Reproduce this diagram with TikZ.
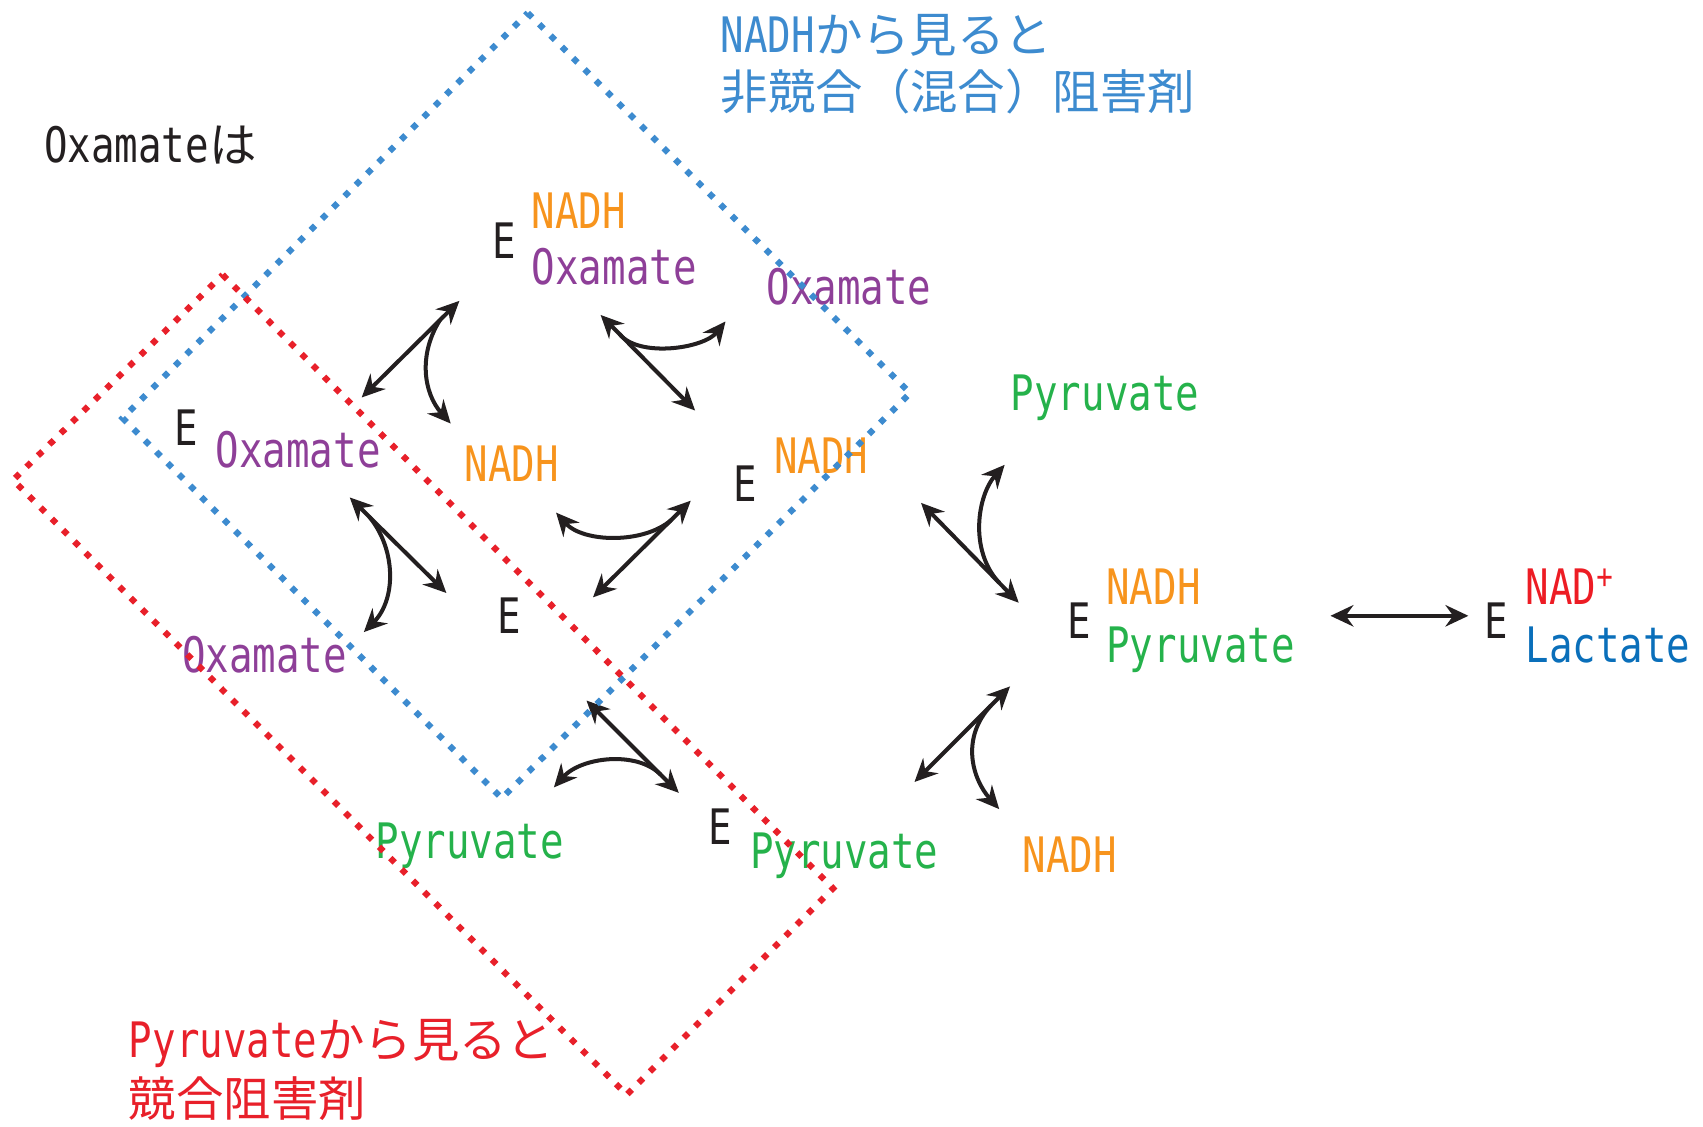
\documentclass[tikz,border=0pt]{standalone}
\usepackage{fontspec}
\setmainfont{DejaVu Sans Mono}[FakeStretch=0.8]
\newfontfamily\jp{Noto Sans CJK JP}[Scale=0.97]
\usetikzlibrary{arrows.meta,calc}
\definecolor{ink}{HTML}{231F20}
\definecolor{nadhcol}{HTML}{F7941D}
\definecolor{oxacol}{HTML}{8E3F98}
\definecolor{pyrcol}{HTML}{25B24B}
\definecolor{nadcol}{HTML}{ED1C24}
\definecolor{laccol}{HTML}{0A6FBA}
\definecolor{fenceblue}{HTML}{3D8BCF}
\definecolor{fencered}{HTML}{E8202A}
\tikzset{
    lbl/.style={
           inner sep=0pt,
           anchor=base west,
           font=\fontsize{12.8}{15}\selectfont,
           },
    enz/.style={lbl, text=ink},
    nadh/.style={lbl, text=nadhcol},
    oxa/.style={lbl, text=oxacol},
    pyr/.style={lbl, text=pyrcol},
    pil/.style={
           <->,
           line width=1.05pt,
           draw=ink,
           },
    swing/.style={
           ->,
           line width=1.05pt,
           draw=ink,
           },
    fence/.style={
           line width=0.057cm,
           dash pattern=on 0.057cm off 0.09cm,
           }
}

\begin{document}
\begin{tikzpicture}[x=0.01cm,y=-0.01cm,>={Stealth[length=6pt,width=5.6pt,inset=2pt]}]
\useasboundingbox (0,0) rectangle (1568,1037);
% headings
\node[lbl, text=fenceblue] (hnadh) at (663,48) {NADH{\jp から見ると}};
\node[lbl, text=fenceblue] (hnadh2) at (663,101) {\jp 非競合（混合）阻害剤};
\node[enz] (hoxa) at (40,150) {Oxamate{\jp は}};
\node[lbl, text=fencered] (hpyr) at (118,974) {Pyruvate{\jp から見ると}};
\node[lbl, text=fencered] (hpyr2) at (118,1028) {\jp 競合阻害剤};
% complexes
\node[enz] (eno) at (453,238) {E};
\node[nadh] (eno1) at (489,210) {NADH};
\node[oxa] (eno2) at (489,262) {Oxamate};
\node[enz] (eo) at (160,410) {E};
\node[oxa] (eo1) at (198,430) {Oxamate};
\node[enz] (en) at (675,462) {E};
\node[nadh] (en1) at (712,436) {NADH};
\node[enz] (ee) at (457,583) {E};
\node[enz] (ep) at (652,778) {E};
\node[pyr] (ep1) at (690,800) {Pyruvate};
\node[enz] (enp) at (982,588) {E};
\node[nadh] (enp1) at (1018,557) {NADH};
\node[pyr] (enp2) at (1018,610) {Pyruvate};
\node[enz] (enl) at (1366,588) {E};
\node[lbl, text=nadcol] (enl1) at (1404,557) {NAD\textsuperscript{+}};
\node[lbl, text=laccol] (enl2) at (1404,610) {Lactate};
% free ligands
\node[oxa] (fo1) at (705,280) {Oxamate};
\node[pyr] (fp1) at (930,378) {Pyruvate};
\node[nadh] (fn1) at (427,443) {NADH};
\node[oxa] (fo2) at (167,619) {Oxamate};
\node[pyr] (fp2) at (345,790) {Pyruvate};
\node[nadh] (fn2) at (941,803) {NADH};
% arrow ends
\coordinate (a1) at (423,277); \coordinate (a2) at (333,366);
\coordinate (b1) at (553,290); \coordinate (b2) at (640,378);
\coordinate (c1) at (322,458); \coordinate (c2) at (411,546);
\coordinate (d1) at (636,461); \coordinate (d2) at (546,550);
\coordinate (e1) at (625,730); \coordinate (e2) at (540,645);
\coordinate (f1) at (938,555); \coordinate (f2) at (848,463);
\coordinate (g1) at (930,632); \coordinate (g2) at (842,720);
\coordinate (h1) at (1225,567); \coordinate (h2) at (1352,567);
\coordinate (ta) at (415,390);
\coordinate (tb) at (668,296);
\coordinate (tc) at (335,582);
\coordinate (td) at (512,472);
\coordinate (te) at (510,725);
\coordinate (tf) at (925,428);
\coordinate (tg) at (920,745);
\draw[pil] (a1) -- (a2);
\draw[pil] (b1) -- (b2);
\draw[pil] (c1) -- (c2);
\draw[pil] (d1) -- (d2);
\draw[pil] (e1) -- (e2);
\draw[pil] (f1) -- (f2);
\draw[pil] (g1) -- (g2);
\draw[pil] (h1) -- (h2);
\draw[swing] ($(a1)!0.2!(a2)$) .. controls +(-20,32) and +(-25,-28) .. (ta);
\draw[swing] ($(b1)!0.2!(b2)$) .. controls +(18,22) and +(-20,25) .. (tb);
\draw[swing] ($(c1)!0.2!(c2)$) .. controls +(25,30) and +(30,-30) .. (tc);
\draw[swing] ($(d1)!0.2!(d2)$) .. controls +(-25,22) and +(25,28) .. (td);
\draw[swing] ($(e1)!0.2!(e2)$) .. controls +(-22,-22) and +(25,-28) .. (te);
\draw[swing] ($(f1)!0.2!(f2)$) .. controls +(-28,-30) and +(-25,28) .. (tf);
\draw[swing] ($(g1)!0.2!(g2)$) .. controls +(-28,30) and +(-25,-28) .. (tg);
% dotted frames
\draw[fence, fenceblue] (486,12) -- (838,362) -- (462,735) -- (113,385) -- cycle;
\draw[fence, fencered] (205,253) -- (767,818) -- (577,1008) -- (12,442) -- cycle;
\end{tikzpicture}
\end{document}
